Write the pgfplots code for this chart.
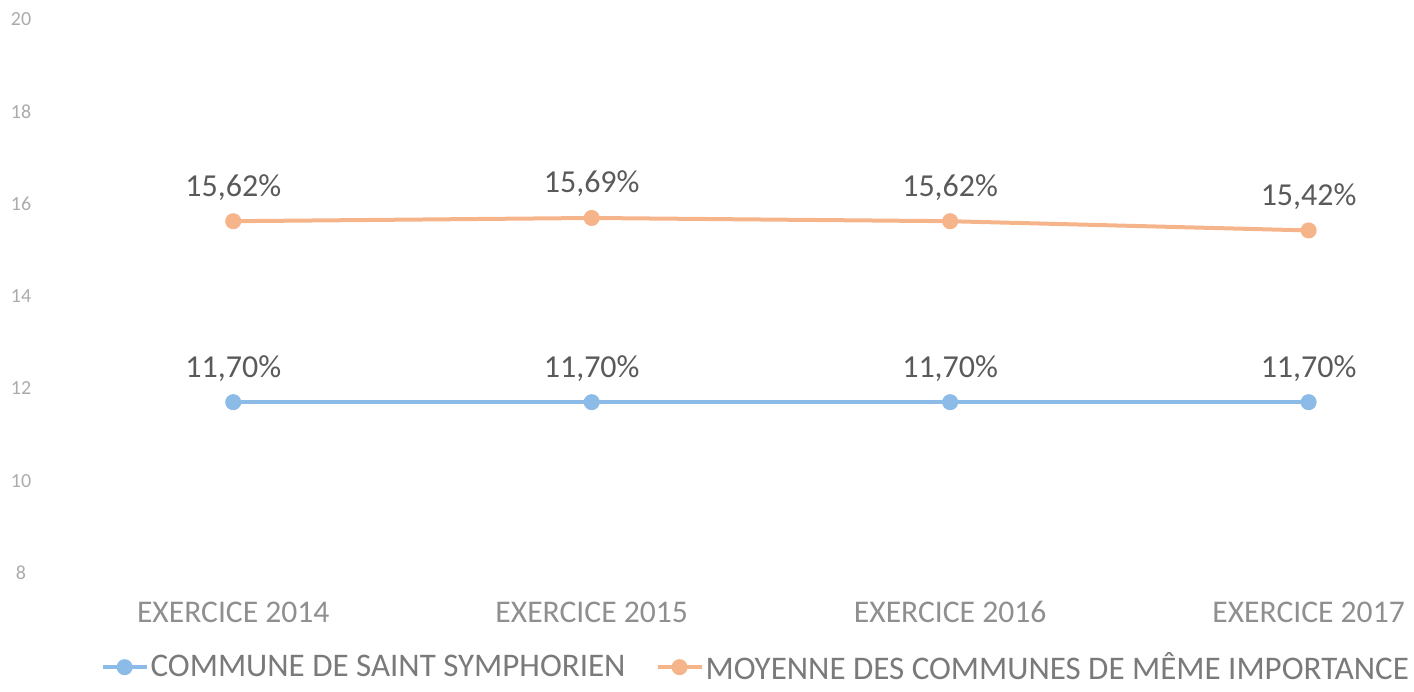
\documentclass[border=0pt]{standalone}
\usepackage{pgfplots}
\pgfplotsset{compat=1.18}
\usepackage{fontspec}
\setmainfont{Carlito}
\definecolor{cblue}{HTML}{8DBBE8}
\definecolor{corange}{HTML}{F6B48A}
\definecolor{tickgray}{HTML}{8F8F8F}
\definecolor{ytickgray}{HTML}{ABABAB}
\definecolor{labgray}{HTML}{5A5A5A}
\definecolor{leggray}{HTML}{7A7A7A}
\begin{document}
\begin{tikzpicture}
\useasboundingbox (0,0) rectangle (707pt,345.5pt);
\begin{axis}[
  at={(27pt,59pt)}, anchor=south west,
  scale only axis, width=680pt, height=277pt,
  xmin=-0.5, xmax=3.294, ymin=8, ymax=20,
  xtick={0,1,2,3},
  xticklabels={EXERCICE 2014,EXERCICE 2015,EXERCICE 2016,EXERCICE 2017},
  ytick={8,10,...,20},
  axis line style={draw=none}, tick style={draw=none},
  /pgf/number format/assume math mode=true,
  xticklabel style={font=\fontsize{15.8}{18}\selectfont, text=tickgray, anchor=center, yshift=-19.5pt},
  yticklabel style={font=\fontsize{10}{12}\selectfont, text=ytickgray, anchor=center, xshift=-16.5pt},
  clip=false,
  nodes near coords,
  point meta=explicit symbolic,
  every node near coord/.append style={font=\fontsize{16}{19}\selectfont, text=labgray, anchor=center, yshift=17pt},
  legend columns=2,
  legend style={at={(axis description cs:0.516,-0.170)}, anchor=center, draw=none, fill=none,
    font=\fontsize{16.5}{19}\selectfont, text=leggray,
    /tikz/every even column/.append style={column sep=14pt},
    inner sep=0pt, nodes={inner sep=1pt}},
  legend image code/.code={\draw[mark repeat=2,mark phase=2,#1] plot coordinates {(0pt,0pt) (11pt,0pt) (22pt,0pt)};},
]
\addplot[color=cblue, line width=2pt, mark=*, mark size=3pt, mark options={fill=cblue, draw=cblue}]
  coordinates {(0,11.70) [11,70\%] (1,11.70) [11,70\%] (2,11.70) [11,70\%] (3,11.70) [11,70\%]};
\addlegendentry{COMMUNE DE SAINT SYMPHORIEN}
\addplot[color=corange, line width=2pt, mark=*, mark size=3pt, mark options={fill=corange, draw=corange}]
  coordinates {(0,15.62) [15,62\%] (1,15.69) [15,69\%] (2,15.62) [15,62\%] (3,15.42) [15,42\%]};
\addlegendentry{MOYENNE DES COMMUNES DE MÊME IMPORTANCE}
\end{axis}
\end{tikzpicture}
\end{document}
